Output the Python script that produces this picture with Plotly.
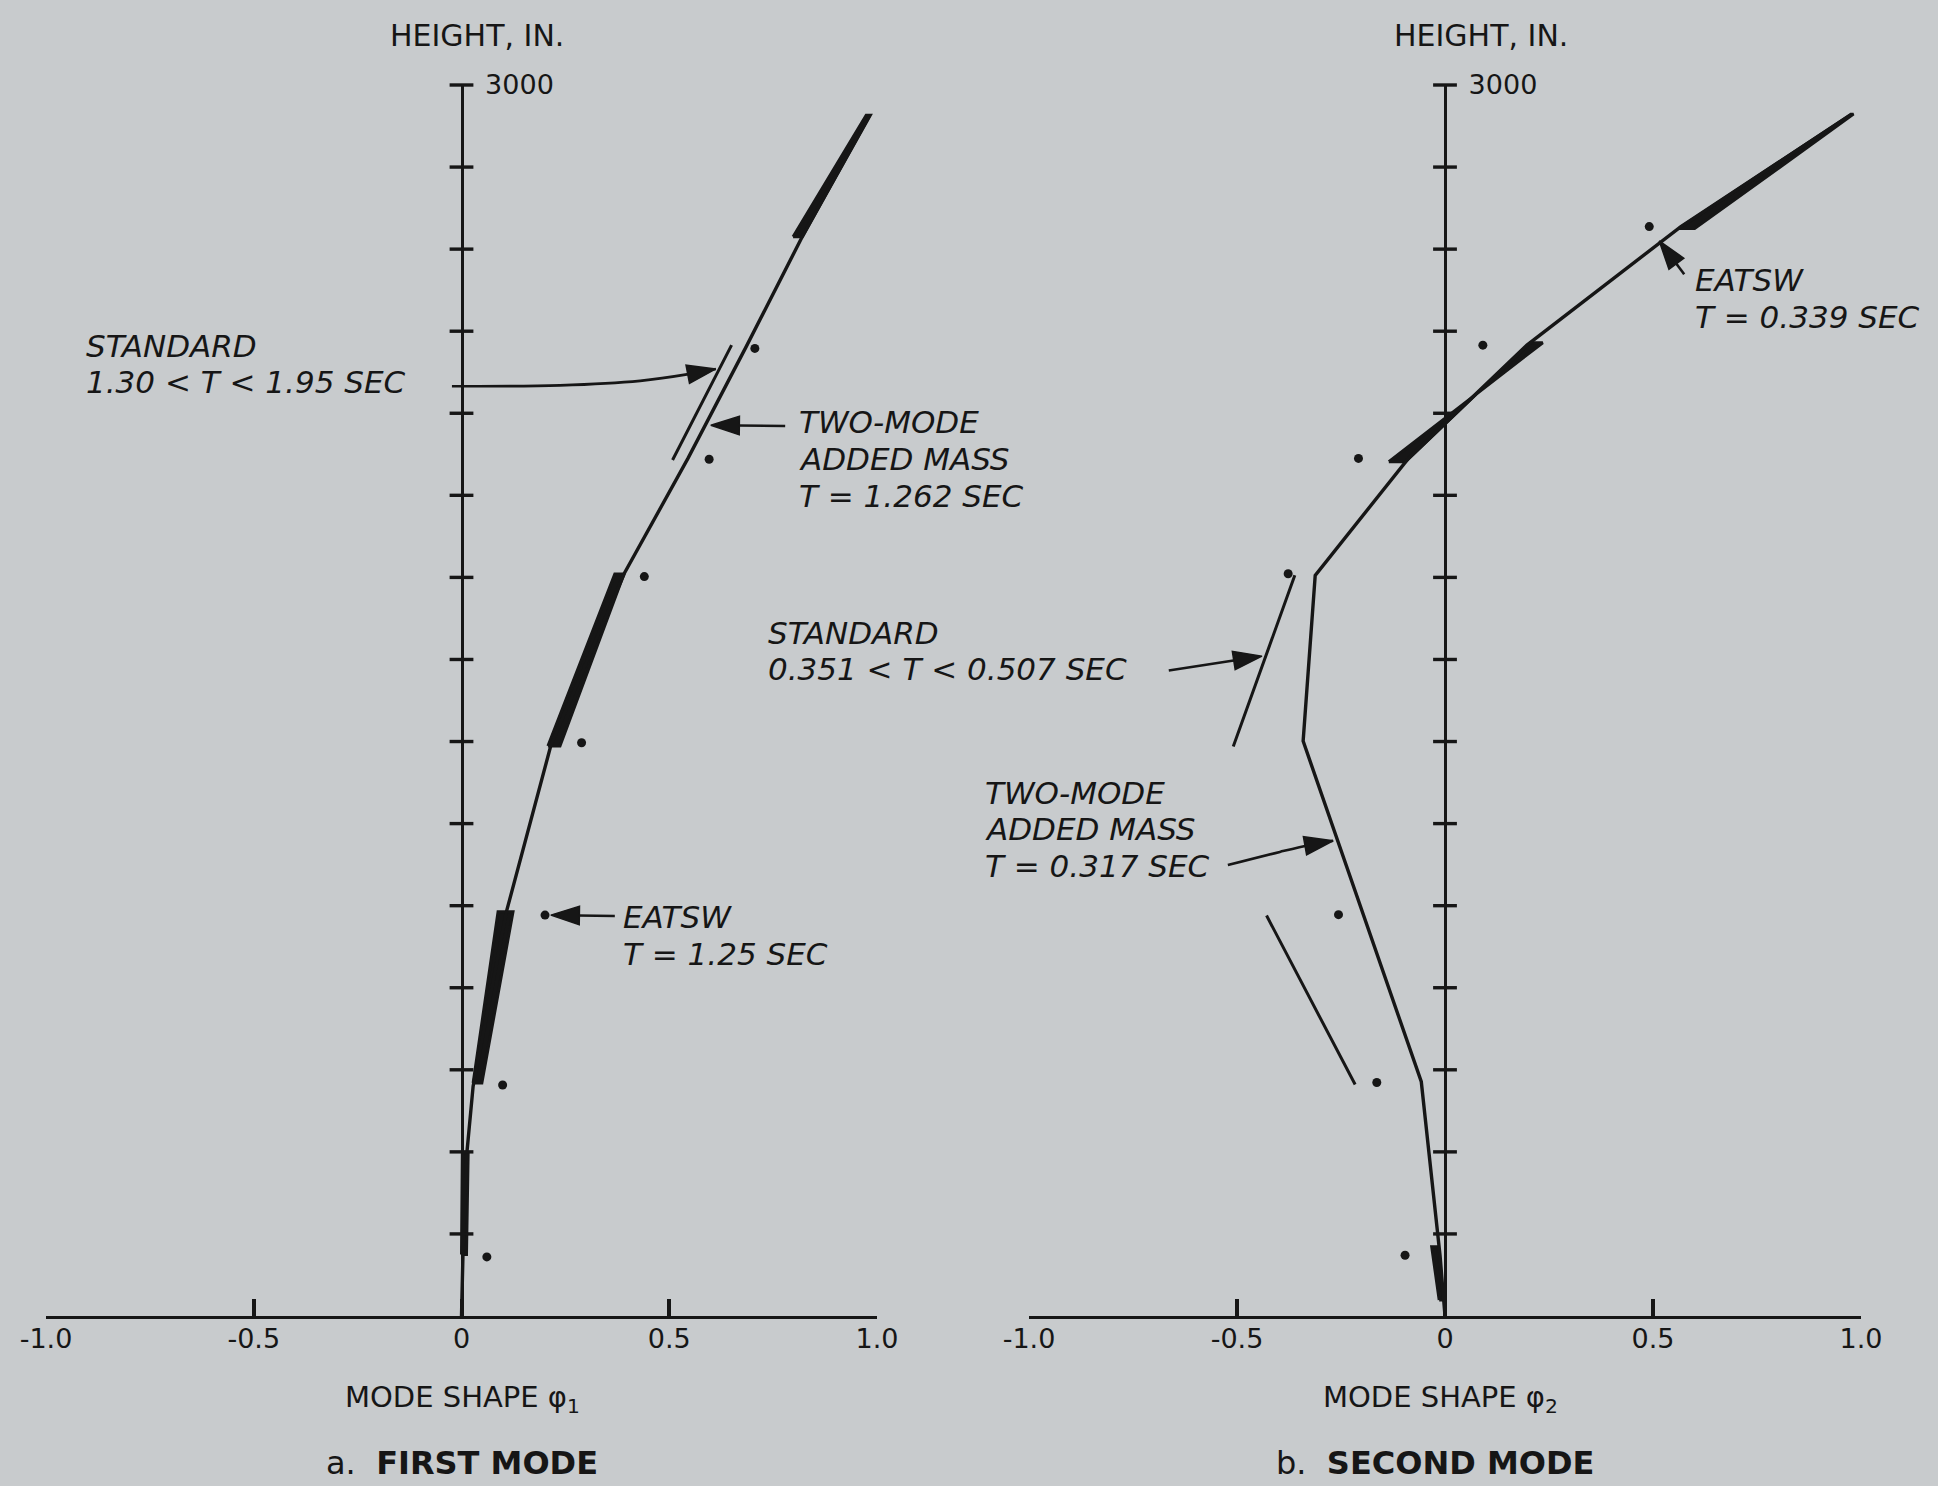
import plotly.graph_objects as go

# ---------------------------------------------------------------- data ----
# Height tick marks on the vertical axes (in.)
height_ticks = list(range(200, 3001, 200))
phi_ticks = [-1.0, -0.5, 0.0, 0.5, 1.0]
phi_tick_text = ["-1.0", "-0.5", "0", "0.5", "1.0"]

# First mode -- two-mode added mass solution, T = 1.262 sec
m1_twomode_h = [0, 169, 388, 560, 985, 1390, 1810, 2090, 2360, 2630, 2924]
m1_twomode_phi = [0.0, 0.004, 0.012, 0.028, 0.108, 0.215, 0.392, 0.545, 0.684, 0.820, 0.981]
# First mode -- EATSW, T = 1.25 sec
m1_eatsw_h = [2358, 2088, 1802, 1397, 977, 563, 144]
m1_eatsw_phi = [0.706, 0.596, 0.440, 0.289, 0.201, 0.099, 0.061]
# First mode -- standard solution, 1.30 < T < 1.95 sec (envelope per segment)
m1_std_h_bot = [150, 568, 1389, 2086, 2630]
m1_std_h_top = [395, 985, 1808, 2366, 2926]
m1_std_a_bot = [0.000, 0.028, 0.208, 0.508, 0.798]
m1_std_a_top = [0.002, 0.088, 0.369, 0.650, 0.974]
m1_std_b_bot = [0.012, 0.049, 0.237, 0.508, 0.820]
m1_std_b_top = [0.016, 0.124, 0.391, 0.650, 0.984]

# Second mode -- two-mode added mass solution, T = 0.317 sec
m2_twomode_h = [0, 148, 571, 980, 1401, 1805, 2090, 2366, 2655, 2929]
m2_twomode_phi = [0.0, -0.012, -0.057, -0.197, -0.341, -0.312, -0.088, 0.197, 0.567, 0.978]
# Second mode -- EATSW, T = 0.339 sec
m2_eatsw_h = [2655, 2366, 2090, 1809, 978, 569, 148]
m2_eatsw_phi = [0.491, 0.091, -0.208, -0.377, -0.256, -0.164, -0.096]
# Second mode -- standard solution, 0.351 < T < 0.507 sec (envelope per segment)
m2_std_h_bot = [39, 564, 1388, 2082, 2650]
m2_std_h_top = [169, 976, 1805, 2372, 2929]
m2_std_a_bot = [-0.014, -0.216, -0.509, -0.135, 0.562]
m2_std_a_top = [-0.032, -0.429, -0.361, 0.235, 0.976]
m2_std_b_bot = [-0.004, -0.216, -0.509, -0.095, 0.600]
m2_std_b_top = [-0.018, -0.429, -0.361, 0.205, 0.982]

# Callout leaders, from the label to the curve (phi, height)
m1_std_leader_phi = [-0.023, 0.237, 0.430, 0.550, 0.612]
m1_std_leader_h = [2266, 2268, 2279, 2296, 2308]
m1_two_leader_phi = [0.779, 0.600]
m1_two_leader_h = [2169, 2171]
m1_eatsw_leader_phi = [0.369, 0.215]
m1_eatsw_leader_h = [975, 977]
m2_two_leader_phi = [-0.522, -0.397, -0.325, -0.269]
m2_two_leader_h = [1099, 1131, 1148, 1158]
m2_std_leader_phi = [-0.664, -0.440]
m2_std_leader_h = [1573, 1608]
m2_eatsw_leader_phi = [0.575, 0.515]
m2_eatsw_leader_h = [2539, 2620]

# ------------------------------------------------------------- styling ----
W, H = 1938, 1486
BG = "#c8cbcd"
INK = "#161616"
FONT = "DejaVu Sans"

fig = go.Figure()


def envelope(hb, ht, ab, at, bb, bt):
    xs, ys = [], []
    for i in range(len(hb)):
        xs += [ab[i], at[i], bt[i], bb[i], ab[i], None]
        ys += [hb[i], ht[i], ht[i], hb[i], hb[i], None]
    return xs, ys


panels = [
    dict(xa="x", ya="y",
         two=(m1_twomode_phi, m1_twomode_h),
         eatsw=(m1_eatsw_phi, m1_eatsw_h),
         std=envelope(m1_std_h_bot, m1_std_h_top, m1_std_a_bot,
                      m1_std_a_top, m1_std_b_bot, m1_std_b_top)),
    dict(xa="x2", ya="y2",
         two=(m2_twomode_phi, m2_twomode_h),
         eatsw=(m2_eatsw_phi, m2_eatsw_h),
         std=envelope(m2_std_h_bot, m2_std_h_top, m2_std_a_bot,
                      m2_std_a_top, m2_std_b_bot, m2_std_b_top)),
]

for p in panels:
    # standard solution envelope
    fig.add_trace(go.Scatter(
        x=p["std"][0], y=p["std"][1], xaxis=p["xa"], yaxis=p["ya"],
        mode="lines", fill="toself", fillcolor=INK,
        line=dict(color=INK, width=3), hoverinfo="skip", showlegend=False))
    # two-mode added mass
    fig.add_trace(go.Scatter(
        x=p["two"][0], y=p["two"][1], xaxis=p["xa"], yaxis=p["ya"],
        mode="lines", line=dict(color=INK, width=3.4),
        showlegend=False, cliponaxis=False))
    # EATSW points
    fig.add_trace(go.Scatter(
        x=p["eatsw"][0], y=p["eatsw"][1], xaxis=p["xa"], yaxis=p["ya"],
        mode="markers", marker=dict(color=INK, size=9),
        showlegend=False, cliponaxis=False))
    # cross-shaped tick marks along the height axis
    fig.add_trace(go.Scatter(
        x=[0] * len(height_ticks), y=height_ticks,
        xaxis=p["xa"], yaxis=p["ya"], mode="markers",
        marker=dict(symbol="line-ew", size=17,
                    line=dict(color=INK, width=3.4)),
        showlegend=False, cliponaxis=False, hoverinfo="skip"))


def leader(xa, ya, phi, h, curved=False):
    """Callout line ending in an arrowhead that follows the last segment."""
    n = len(phi)
    fig.add_trace(go.Scatter(
        x=phi, y=h, xaxis=xa, yaxis=ya, mode="lines+markers",
        line=dict(color=INK, width=2.6,
                  shape="spline" if curved else "linear"),
        marker=dict(symbol="arrow", angleref="previous", opacity=1,
                    size=[0] * (n - 1) + [30], color=INK,
                    line=dict(width=1.5, color=INK)),
        showlegend=False, cliponaxis=False, hoverinfo="skip"))


leader("x", "y", m1_std_leader_phi, m1_std_leader_h, curved=True)
leader("x", "y", m1_two_leader_phi, m1_two_leader_h)
leader("x", "y", m1_eatsw_leader_phi, m1_eatsw_leader_h)
leader("x2", "y2", m2_two_leader_phi, m2_two_leader_h, curved=True)
leader("x2", "y2", m2_std_leader_phi, m2_std_leader_h)
leader("x2", "y2", m2_eatsw_leader_phi, m2_eatsw_leader_h)


def label(text, px, py, size=31, xanchor="left"):
    fig.add_annotation(
        text=text, x=px / W, y=1 - py / H, xref="paper", yref="paper",
        showarrow=False, xanchor=xanchor, yanchor="middle",
        font=dict(size=size, color=INK, family=FONT))


# first mode callouts
label("<i>STANDARD</i>", 84, 346)
label("<i>1.30 &lt; T &lt; 1.95 SEC</i>", 84, 382.5)
label("<i>TWO-MODE</i>", 797, 422.5)
label("<i>ADDED MASS</i>", 797, 459)
label("<i>T = 1.262 SEC</i>", 797, 495.5)
label("<i>EATSW</i>", 621, 917)
label("<i>T = 1.25 SEC</i>", 621, 953.5)
# second mode callouts
label("<i>EATSW</i>", 1693, 280)
label("<i>T = 0.339 SEC</i>", 1693, 316.5)
label("<i>STANDARD</i>", 766, 633)
label("<i>0.351 &lt; T &lt; 0.507 SEC</i>", 766, 669.5)
label("<i>TWO-MODE</i>", 983, 792.5)
label("<i>ADDED MASS</i>", 983, 829)
label("<i>T = 0.317 SEC</i>", 983, 865.5)

# axis titles and panel captions
label("HEIGHT, IN.", 477, 36, size=30, xanchor="center")
label("HEIGHT, IN.", 1481, 36, size=30, xanchor="center")
label("MODE SHAPE \u03c6<sub>1</sub>", 462, 1399, size=29, xanchor="center")
label("MODE SHAPE \u03c6<sub>2</sub>", 1440, 1399, size=29, xanchor="center")
label("a.  <b>FIRST MODE</b>", 462, 1463, size=32, xanchor="center")
label("b.  <b>SECOND MODE</b>", 1435, 1463, size=32, xanchor="center")

# ---------------------------------------------------------------- axes ----
y_dom = [170 / H, 1401 / H]
x_common = dict(range=[-1, 1], showline=True, linecolor=INK, linewidth=3.4,
                ticks="inside", ticklen=17, tickwidth=3.6, tickcolor=INK,
                tickvals=phi_ticks, ticktext=phi_tick_text,
                tickfont=dict(size=27, color=INK, family=FONT),
                ticklabelstandoff=-4, automargin=False,
                showgrid=False, zeroline=False, fixedrange=True)
y_common = dict(range=[0, 3000], domain=y_dom, anchor="free", side="right",
                showline=True, linecolor=INK, linewidth=3.4, ticks="",
                tickvals=[3000], ticktext=["3000"],
                tickfont=dict(size=27, color=INK, family=FONT),
                ticklabelstandoff=16, automargin=False,
                showgrid=False, zeroline=False, fixedrange=True)

fig.update_layout(
    width=W, height=H,
    margin=dict(l=0, r=0, t=0, b=0, pad=0, autoexpand=False),
    paper_bgcolor=BG, plot_bgcolor=BG,
    font=dict(family=FONT, color=INK),
    showlegend=False,
    xaxis=dict(domain=[46 / W, 877 / W], anchor="y", **x_common),
    xaxis2=dict(domain=[1029 / W, 1861 / W], anchor="y2", **x_common),
    yaxis=dict(position=461.5 / W, **y_common),
    yaxis2=dict(position=1445 / W, **y_common),
)

fig.write_html("out.html")
